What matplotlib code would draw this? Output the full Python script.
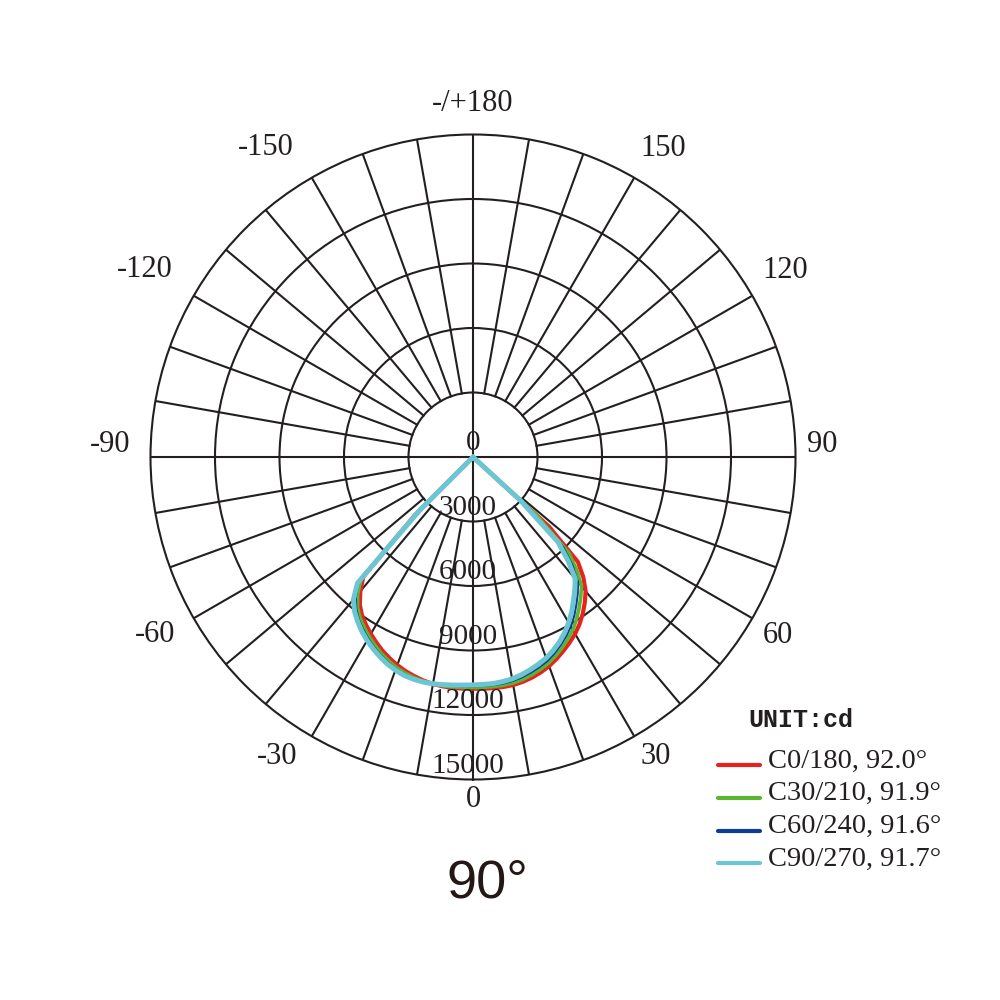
import numpy as np
import matplotlib
matplotlib.use("Agg")
import matplotlib.pyplot as plt
from matplotlib.lines import Line2D

# ---------------- data ----------------
gamma = [-50, -47.5, -45, -42.5, -40, -37.5, -35, -32.5, -30, -27.5, -25, -22.5, -20,
         -17.5, -15, -12.5, -10, -7.5, -5, -2.5, 0,
         2.5, 5, 7.5, 10, 12.5, 15, 17.5, 20, 22.5, 25, 27.5, 30,
         32.5, 35, 37.5, 40, 42.5, 45, 47.5, 50]

c0_180 = [0, 0, 3800, 7550, 8150, 8650, 9000, 9260, 9500, 9730, 9950, 10130, 10300,
          10440, 10550, 10650, 10720, 10760, 10780, 10785, 10780,
          10790, 10790, 10790, 10770, 10710, 10620, 10500, 10350, 10160, 9950, 9730, 9500,
          9220, 8900, 8540, 8150, 7600, 6900, 4800, 0]
c30_210 = [0, 0, 3700, 7700, 8350, 8820, 9150, 9410, 9650, 9870, 10080, 10260, 10420,
           10530, 10620, 10680, 10720, 10730, 10735, 10730, 10720,
           10725, 10720, 10710, 10680, 10610, 10500, 10370, 10220, 10020, 9800, 9550, 9280,
           8960, 8600, 8230, 7850, 7150, 6300, 4000, 0]
c60_240 = [0, 0, 3600, 7850, 8480, 8920, 9250, 9510, 9750, 9970, 10170, 10340, 10490,
           10590, 10660, 10690, 10710, 10705, 10690, 10675, 10660,
           10660, 10650, 10630, 10580, 10500, 10380, 10250, 10100, 9890, 9650, 9390, 9100,
           8760, 8380, 8000, 7600, 6850, 5950, 3500, 0]
c90_270 = [0, 0, 3500, 7950, 8650, 9050, 9350, 9620, 9850, 10060, 10250, 10420, 10550,
           10650, 10700, 10720, 10710, 10680, 10650, 10620, 10600,
           10590, 10580, 10540, 10480, 10380, 10250, 10110, 9950, 9740, 9500, 9220, 8900,
           8540, 8150, 7780, 7400, 6550, 5600, 3000, 0]

series_labels = ["C0/180, 92.0°", "C30/210, 91.9°", "C60/240, 91.6°", "C90/270, 91.7°"]
series_colors = ["#e8231f", "#5cb531", "#0d3d94", "#6dc5d3"]
series_widths = [3.0, 2.6, 1.6, 3.6]

ring_values = [0, 3000, 6000, 9000, 12000, 15000]
ring_labels = ["0", "3000", "6000", "9000", "12000", "15000"]

angle_labels = ["0", "30", "60", "90", "120", "150", "-/+180",
                "-150", "-120", "-90", "-60", "-30"]
# label anchor positions (polar angle in degrees, radius in cd units)
angle_label_theta = [0, 31.4, 59.7, 92.0, 120.9, 148.4, 180,
                     -146.2, -119.7, -91.9, -60.8, -33.2]
angle_label_r = [15950, 16340, 16420, 16240, 16920, 16870, 16460,
                 17300, 17560, 16890, 16950, 16670]

title = "90°"
unit_text = "UNIT:cd"

# ---------------- figure ----------------
ink = "#231f20"
serif = ["Liberation Serif", "DejaVu Serif"]

fig = plt.figure(figsize=(10, 10), dpi=100)
fig.patch.set_facecolor("white")
ax = fig.add_axes([0.1505, 0.2205, 0.645, 0.645], projection="polar")
ax.set_theta_zero_location("S")
ax.set_theta_direction(1)
ax.set_ylim(0, 15000)

# grid: rings via y-grid, spokes drawn manually
ax.set_yticks(ring_values[1:-1])
ax.set_yticklabels([])
ax.set_xticks([])
ax.yaxis.grid(True, color=ink, lw=1.5, ls="-")
ax.xaxis.grid(False)
ax.spines["polar"].set_color(ink)
ax.spines["polar"].set_linewidth(1.5)

for a in range(0, 360, 10):
    t = np.deg2rad(a)
    r0 = 0 if a % 90 == 0 else ring_values[1]
    ax.plot([t, t], [r0, 15000], color=ink, lw=1.5, zorder=1)

# curves
for vals, col, lw in zip([c0_180, c30_210, c60_240, c90_270], series_colors, series_widths):
    ax.plot(np.deg2rad(gamma), vals, color=col, lw=lw, zorder=3,
            solid_joinstyle="round", solid_capstyle="round")

# ring labels
for v, lab in zip(ring_values, ring_labels):
    dx = 0 if v == 0 else -3.6
    ax.annotate(lab, xy=(0, v), xytext=(dx, 10), textcoords="offset points",
                ha="center", va="center", fontsize=21, family=serif, color=ink, zorder=4)

# angle labels
for th, r, lab in zip(angle_label_theta, angle_label_r, angle_labels):
    ax.text(np.deg2rad(th), r, lab, ha="center", va="center", fontsize=22,
            family=serif, color=ink)

# title
fig.text(0.487, 0.117, title, ha="center", va="center", fontsize=39,
         family=["Liberation Sans", "DejaVu Sans"], color="#231815")

# legend (manual)
fig.text(0.748, 0.280, unit_text, ha="left", va="center", fontsize=18,
         family=["Liberation Mono", "DejaVu Sans Mono"], fontweight="bold", color=ink)
for i, (lab, col) in enumerate(zip(series_labels, series_colors)):
    y = 0.235 - i * 0.0328
    fig.add_artist(Line2D([0.718, 0.760], [y, y], transform=fig.transFigure,
                          color=col, lw=3.0, solid_capstyle="round"))
    fig.text(0.768, y + 0.004, lab, ha="left", va="center", fontsize=20.5,
             family=serif, color=ink)

fig.savefig("out.png", dpi=100, facecolor="white")
